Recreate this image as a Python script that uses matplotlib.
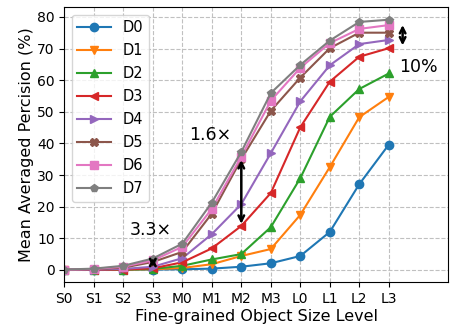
import matplotlib
matplotlib.use("Agg")
import matplotlib.pyplot as plt
import numpy as np

levels = ["S0", "S1", "S2", "S3", "M0", "M1", "M2", "M3", "L0", "L1", "L2", "L3"]
names = ["D0", "D1", "D2", "D3", "D4", "D5", "D6", "D7"]

d0 = [0.1, 0.1, 0.1, 0.1, 0.2, 0.4, 1.0, 2.1, 4.4, 12.0, 27.1, 39.6]
d1 = [0.0, 0.0, 0.1, 0.2, 0.6, 1.8, 4.4, 6.6, 17.4, 32.5, 48.3, 54.7]
d2 = [0.0, 0.0, 0.1, 0.3, 1.3, 3.3, 5.0, 13.5, 29.0, 48.4, 57.2, 62.1]
d3 = [0.0, 0.0, 0.1, 0.5, 2.4, 6.8, 13.9, 24.3, 45.1, 59.5, 67.4, 70.1]
d4 = [0.0, 0.1, 0.3, 1.0, 3.7, 11.3, 20.8, 36.9, 53.3, 64.7, 71.4, 72.7]
d5 = [0.0, 0.2, 0.7, 2.5, 5.7, 17.8, 35.0, 50.3, 60.8, 70.1, 75.0, 75.0]
d6 = [0.0, 0.3, 1.0, 3.0, 7.3, 19.3, 35.8, 53.5, 63.9, 71.7, 76.2, 77.4]
d7 = [0.1, 0.4, 1.3, 3.6, 8.3, 21.3, 37.3, 55.9, 64.8, 72.5, 78.4, 79.1]

series = [d0, d1, d2, d3, d4, d5, d6, d7]
markers = ["o", "v", "^", "<", ">", "X", "s", "p"]

fig = plt.figure(figsize=(4.5, 3.28), dpi=100)
ax = fig.add_axes([0.143, 0.139, 0.852, 0.839])

x = np.arange(len(levels))
for name, vals, m in zip(names, series, markers):
    ax.plot(x, vals, marker=m, markersize=6, linewidth=1.5, label=name)

ax.set_xlim(0, 13)
ax.set_xticks(x)
ax.set_xticklabels(levels)
ax.set_yticks(np.arange(0, 81, 10))
ax.tick_params(labelsize=10)
ax.grid(True, linestyle="--", color="#c0c0c0", linewidth=0.8)
ax.set_xlabel("Fine-grained Object Size Level", fontsize=11.5, labelpad=2)
ax.set_ylabel("Mean Averaged Percision (%)", fontsize=11.5, labelpad=2)

ax.legend(loc="upper left", fontsize=10.5, handlelength=2.3,
          labelspacing=0.55, borderaxespad=0.5)

arrow = dict(arrowstyle="<->", color="black", lw=1.8)
ax.annotate("", xy=(3, 0.0), xytext=(3, 4.7), arrowprops=arrow)
ax.annotate("", xy=(6, 13.7), xytext=(6, 35.6), arrowprops=arrow)
ax.annotate("", xy=(11.47, 70.1), xytext=(11.47, 78.3), arrowprops=arrow)

ax.text(2.2, 12.7, "3.3\u00d7", fontsize=12.5, va="center")
ax.text(4.24, 42.6, "1.6\u00d7", fontsize=12.5, va="center")
ax.text(11.36, 64.3, "10%", fontsize=12.5, va="center")

fig.savefig("out.png", dpi=100)
